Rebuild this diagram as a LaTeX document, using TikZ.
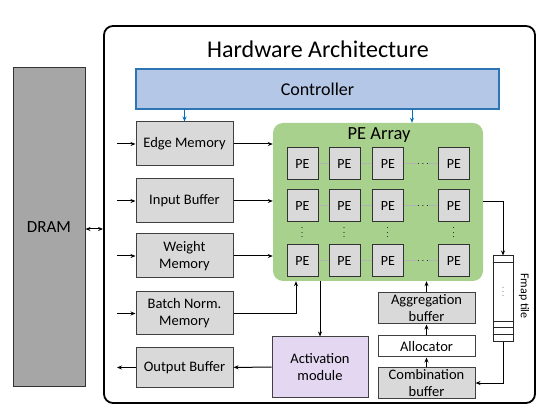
\documentclass[tikz,border=0pt]{standalone}
\usepackage{fontspec}
\setmainfont{Carlito}
\usetikzlibrary{positioning,arrows.meta}
\definecolor{memgray}{HTML}{D9D9D9}
\definecolor{dramgray}{HTML}{A6A6A6}
\definecolor{ctrlblue}{HTML}{B4C7E7}
\definecolor{ctrlline}{HTML}{2E75B6}
\definecolor{arrowblue}{HTML}{0070C0}
\definecolor{pegreen}{HTML}{A9D18E}
\definecolor{actpurple}{HTML}{E4D7F2}

\begin{document}
\begin{tikzpicture}[x=1pt, y=-1pt, >={Stealth[length=5pt,width=4pt]},
    every node/.style={font=\fontsize{14.5}{17}\selectfont, inner sep=0pt},
    membox/.style={draw=black!75, line width=1pt, fill=memgray, align=center, minimum width=97pt},
    pe/.style={draw=black!80, line width=1pt, fill=memgray, minimum width=31pt, minimum height=32pt, font=\fontsize{14}{16}\selectfont},
    peline/.style={draw=black!30, line width=1pt},
    link/.style={->, line width=1pt}]
    \useasboundingbox (0,0) rectangle (554,411);

    % off-chip memory and chip outline
    \node[draw=black!80, line width=1pt, fill=dramgray, minimum width=72pt, minimum height=318pt, font=\fontsize{17}{20}\selectfont] (dram) at (49,227) {DRAM};
    \node[draw, line width=1.8pt, rounded corners=9pt, minimum width=431pt, minimum height=377pt] (arch) at (319.5,214.5) {};
    \node[font=\fontsize{24}{28}\selectfont] (title) at (318,49) {Hardware Architecture};
    \node[draw=ctrlline, line width=1.2pt, fill=ctrlblue, minimum width=363pt, minimum height=40pt, font=\fontsize{18}{21}\selectfont] (ctrl) at (317.5,89) {Controller};

    % on-chip buffers
    \node[membox, minimum height=44pt] (edge) at (184.5,144) {Edge Memory};
    \node[membox, minimum height=44pt] (inbuf) at (184.5,201) {Input Buffer};
    \node[membox, minimum height=44pt] (weight) at (184.5,256) {Weight\\Memory};
    \node[membox, minimum height=43pt] (bnorm) at (184.5,313.5) {Batch Norm.\\Memory};
    \node[membox, minimum height=39pt] (outbuf) at (184.5,367.5) {Output Buffer};

    % PE array
    \node[fill=pegreen, rounded corners=10pt, minimum width=210pt, minimum height=158pt] (pearray) at (378,202) {};
    \node[font=\fontsize{18.5}{21}\selectfont] (petitle) at (379,135) {PE Array};
    \foreach \c/\x in {1/302.5,2/344.5,3/388,4/454}
      \foreach \r/\y in {1/164,2/206,3/261}
        \node[pe] (pe\r\c) at (\x,\y) {PE};
    \foreach \r/\y in {1/164,2/206,3/261} {
      \node[font=\fontsize{10}{12}\selectfont] (hdots\r) at (423,\y) {$\cdots$};
      \draw[peline] (pe\r1) -- (pe\r2);
      \draw[peline] (pe\r2) -- (pe\r3);
      \draw[peline] (pe\r3) -- (hdots\r);
      \draw[peline] (hdots\r) -- (pe\r4);
    }
    \foreach \c/\x in {1/302.5,2/344.5,3/388,4/454}
      \node[rotate=90, font=\fontsize{10}{11}\selectfont] (vdots\c) at (\x,233) {$\cdots$};

    % aggregation path
    \node[membox, minimum height=31pt] (agg) at (426.5,308.5) {Aggregation\\buffer};
    \node[draw=black!75, line width=1pt, fill=white, minimum width=97pt, minimum height=21pt] (alloc) at (426.5,346.5) {Allocator};
    \node[membox, minimum height=30pt] (comb) at (426.5,383) {Combination\\buffer};
    \node[draw=black!75, line width=1pt, fill=actpurple, align=center, minimum width=96pt, minimum height=60pt] (act) at (320,367) {Activation\\module};

    % fmap tile
    \node[draw=black!85, line width=1pt, fill=white, minimum width=20pt, minimum height=86pt] (fmap) at (503,299) {};
    \draw[black!85, line width=1pt] ([yshift=-7pt]fmap.north west) -- ([yshift=-7pt]fmap.north east);
    \foreach \d in {8,15,21}
      \draw[black!85, line width=1pt] ([yshift=\d pt]fmap.south west) -- ([yshift=\d pt]fmap.south east);
    \node[rotate=-90, font=\fontsize{9}{11}\selectfont] (fdots) at (503,292) {$\cdots$};
    \node[rotate=-90, font=\fontsize{12}{14}\selectfont] (ftile) at (524,296) {Fmap tile};

    % free ends of the buffer links
    \coordinate (edgein) at (117,144);
    \coordinate (inbufin) at (117,201);
    \coordinate (weightin) at (117,256);
    \coordinate (bnormin) at (117,313.5);
    \coordinate (outbufout) at (117,367.5);

    \draw[<->, line width=1pt] (dram.east |- 0,229) -- (arch.west |- 0,229);
    \draw[link] (edgein) -- (edge);
    \draw[link] (inbufin) -- (inbuf);
    \draw[link] (weightin) -- (weight);
    \draw[link] (bnormin) -- (bnorm);
    \draw[link] (outbuf) -- (outbufout);

    \draw[link, arrowblue] (ctrl.south -| edge) -- (edge.north);
    \draw[link, arrowblue] ([xshift=94.5pt]ctrl.south) -- ([xshift=34pt]pearray.north);

    \draw[link] (edge.east) -- (edge.east -| pearray.west);
    \draw[link] (inbuf.east) -- (inbuf.east -| pearray.west);
    \draw[link] (weight.east) -- (weight.east -| pearray.west);
    \draw[link] (bnorm.east) -| ([xshift=-82pt]pearray.south);
    \draw[link] (pearray.south -| act) -- (act.north);
    \draw[link] (act) -- (outbuf);
    \draw[link] (pearray.east) -| (fmap.north);
    \draw[link] (fmap.south) |- (comb.east);
    \draw[link] (comb) -- (alloc);
    \draw[link] (alloc) -- (agg);
    \draw[link] (agg.north) -- (agg.north |- pearray.south);
\end{tikzpicture}
\end{document}
